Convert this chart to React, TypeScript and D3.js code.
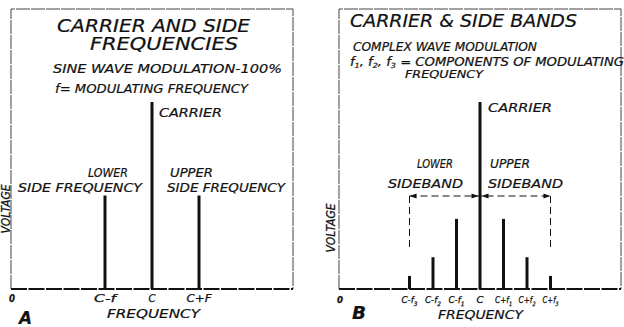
import React, { useEffect, useRef } from 'react';
import * as d3 from 'd3';

// Panel A: sine wave modulation (frequency units, relative voltage)
const freqA = [2, 3, 4];
const voltA = [0.5, 1.0, 0.5];
const tickLabelsA = [
  { pos: 0, main: '0', sub: '', w: 6 },
  { pos: 2, main: 'C-f', sub: '', w: 22 },
  { pos: 3, main: 'C', sub: '', w: 7 },
  { pos: 4, main: 'C+F', sub: '', w: 25 },
];

// Panel B: complex wave modulation
const freqB = [3, 4, 5, 6, 7, 8, 9];
const voltB = [0.07, 0.17, 0.375, 1.0, 0.375, 0.17, 0.07];
const tickLabelsB = [
  { pos: 0, main: '0', sub: '', w: 6 },
  { pos: 3, main: 'C-f', sub: '3', w: 16 },
  { pos: 4, main: 'C-f', sub: '2', w: 16 },
  { pos: 5, main: 'C-f', sub: '1', w: 16 },
  { pos: 6, main: 'C', sub: '', w: 7 },
  { pos: 7, main: 'C+f', sub: '1', w: 17 },
  { pos: 8, main: 'C+f', sub: '2', w: 17 },
  { pos: 9, main: 'C+f', sub: '3', w: 16 },
];

const FONT = "'DejaVu Sans Condensed', 'DejaVu Sans', sans-serif";

const App: React.FC = () => {
  const svgRef = useRef<SVGSVGElement>(null);

  useEffect(() => {
    if (!svgRef.current) return;
    const svg = d3.select(svgRef.current);
    svg.selectAll('*').remove();

    const ink = '#111';
    const baseY = 289;
    const topY = 102;
    const yScale = d3.scaleLinear().domain([0, 1]).range([baseY, topY]);

    // helper for hand-lettered text, stretched to the measured width
    const label = (x: number, y: number, w: number, size: number, txt: string, weight = 'normal') =>
      svg.append('text')
        .attr('x', x)
        .attr('y', y)
        .attr('textLength', w)
        .attr('lengthAdjust', 'spacingAndGlyphs')
        .style('font-family', FONT)
        .style('font-style', 'italic')
        .style('font-weight', weight)
        .style('font-size', size + 'px')
        .style('fill', ink)
        .style('stroke', ink)
        .style('stroke-width', 0.2)
        .text(txt);

    const panel = (left: number, right: number, domainMax: number, freqs: number[], volts: number[],
                   ticks: { pos: number; main: string; sub: string; w: number }[], tickY: number, tickSize: number) => {
      const x = d3.scaleLinear().domain([0, domainMax]).range([left, right]);

      // frame
      svg.append('path')
        .attr('d', `M${left},${baseY} V9 H${right} V${baseY}`)
        .style('fill', 'none')
        .style('stroke', '#444')
        .style('stroke-width', 1)
        .style('stroke-dasharray', '14,1');

      // frequency axis
      svg.append('line')
        .attr('x1', left).attr('x2', right)
        .attr('y1', baseY).attr('y2', baseY)
        .style('stroke', ink)
        .style('stroke-width', 1.8)
        .style('stroke-dasharray', '16,1.5');

      // spectral lines
      svg.append('g').selectAll('line')
        .data(freqs)
        .join('line')
        .attr('x1', d => x(d)).attr('x2', d => x(d))
        .attr('y1', baseY)
        .attr('y2', (_, i) => yScale(volts[i]))
        .style('stroke', ink)
        .style('stroke-width', 3);

      // tick labels
      ticks.forEach(t => {
        const cx = t.pos === 0 ? x(t.pos) + 1 : x(t.pos);
        const tx = svg.append('text')
          .attr('x', cx - t.w / 2)
          .attr('y', tickY)
          .attr('textLength', t.w)
          .attr('lengthAdjust', 'spacingAndGlyphs')
          .style('font-family', FONT)
          .style('font-style', 'italic')
          .style('font-weight', t.pos === 0 ? 'bold' : 'normal')
          .style('font-size', tickSize + 'px')
          .style('fill', ink)
          .style('stroke', ink)
          .style('stroke-width', 0.25);
        tx.append('tspan').text(t.main);
        if (t.sub) {
          tx.append('tspan').attr('dy', 2.5).style('font-size', '6px').text(t.sub);
        }
      });
      return x;
    };

    const vertical = (x: number, y: number) =>
      svg.append('text')
        .attr('transform', `translate(${x},${y}) rotate(-90)`)
        .style('text-anchor', 'middle')
        .style('font-family', FONT)
        .style('font-style', 'italic')
        .style('font-size', '12px')
        .style('fill', ink)
        .style('stroke', ink)
        .style('stroke-width', 0.25)
        .text('VOLTAGE');

    // ---------- Panel A ----------
    panel(11, 293, 6, freqA, voltA, tickLabelsA, 302, 11);
    label(57, 32, 193, 17, 'CARRIER AND SIDE');
    label(90, 50, 148, 17, 'FREQUENCIES');
    label(53, 73, 229, 13, 'SINE WAVE MODULATION-100%');
    label(55, 93, 193, 13, 'f= MODULATING FREQUENCY');
    label(159, 117, 63, 12, 'CARRIER');
    label(88, 177, 40, 12, 'LOWER');
    label(18, 192, 124, 12, 'SIDE FREQUENCY');
    label(170, 177, 43, 12, 'UPPER');
    label(167, 192, 118, 12, 'SIDE FREQUENCY');
    label(107, 318, 93, 13, 'FREQUENCY');
    label(19, 324, 13, 18, 'A', 'bold');
    vertical(10, 209);

    // ---------- Panel B ----------
    const xB = panel(339, 621, 12, freqB, voltB, tickLabelsB, 303, 9);
    label(350, 27, 227, 18, 'CARRIER & SIDE BANDS');
    label(353, 51, 184, 12, 'COMPLEX WAVE MODULATION');
    const fl = label(350, 66, 274, 11.5, '');
    ['1', '2', '3'].forEach((s, i) => {
      fl.append('tspan').attr('dy', i === 0 ? 0 : -2).text(i === 0 ? 'f' : ', f');
      fl.append('tspan').attr('dy', 2).style('font-size', '7px').text(s);
    });
    fl.append('tspan').attr('dy', -2).text(' = COMPONENTS OF MODULATING');
    label(405, 78, 78, 10.5, 'FREQUENCY');
    label(488, 112, 64, 12, 'CARRIER');
    label(417, 168, 36, 13, 'LOWER');
    label(388, 188, 75, 13, 'SIDEBAND');
    label(490, 168, 40, 13, 'UPPER');
    label(488, 188, 75, 13, 'SIDEBAND');
    label(438, 319, 85, 12, 'FREQUENCY');
    label(352, 319, 14, 18, 'B', 'bold');
    vertical(335, 228);

    // sideband extent brackets
    const lo = xB(freqB[0]);
    const hi = xB(freqB[freqB.length - 1]);
    const mid = xB(6);
    const bracketY = 196;
    const dashed = (x1: number, y1: number, x2: number, y2: number) =>
      svg.append('line')
        .attr('x1', x1).attr('y1', y1).attr('x2', x2).attr('y2', y2)
        .style('stroke', ink)
        .style('stroke-width', 1)
        .style('stroke-dasharray', '7,4');
    dashed(lo, bracketY, lo, 250);
    dashed(hi, bracketY, hi, 250);
    dashed(lo, bracketY, hi, bracketY);
    const arrow = (tip: number, dir: number) =>
      svg.append('path')
        .attr('d', `M${tip},${bracketY} L${tip + dir * 7},${bracketY - 2.5} L${tip + dir * 7},${bracketY + 2.5} Z`)
        .style('fill', ink);
    arrow(lo, 1);
    arrow(mid - 1.5, -1);
    arrow(mid + 1.5, 1);
    arrow(hi, -1);
  }, []);

  return (
    <svg
      ref={svgRef}
      width={624}
      height={327}
      style={{ position: 'absolute', left: 0, top: 0, background: '#fff' }}
    />
  );
};

export default App;
